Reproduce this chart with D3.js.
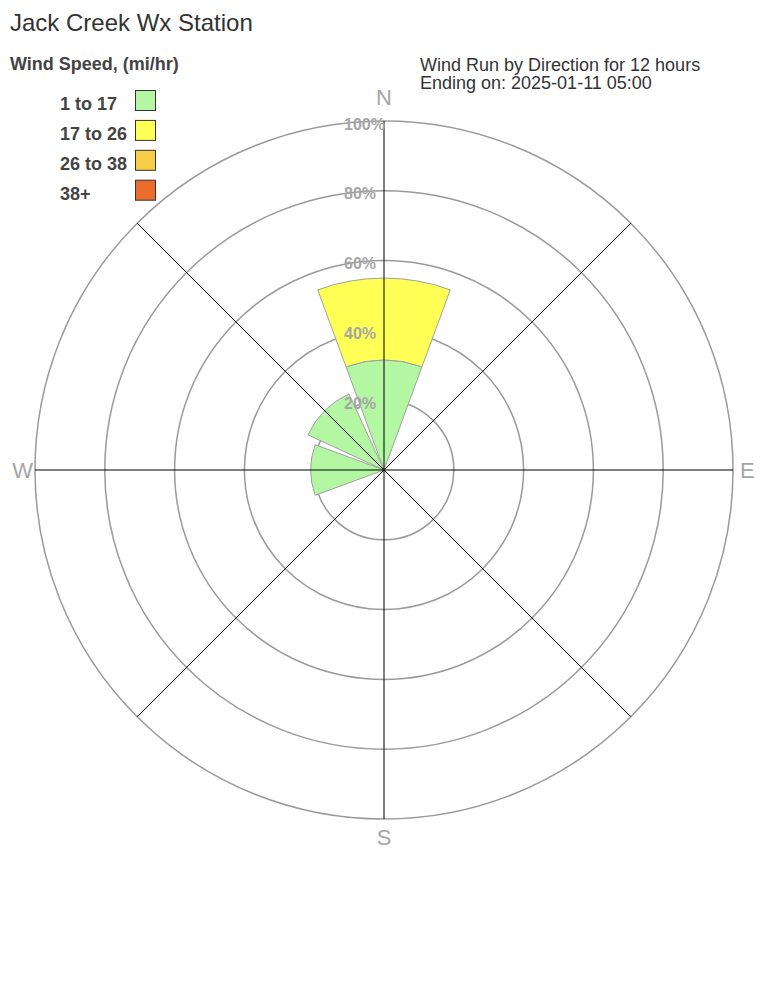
<!DOCTYPE html>
<html>
<head>
<meta charset="utf-8">
<script src="https://cdn.jsdelivr.net/npm/d3@7"></script>
<style>
  html, body { margin: 0; padding: 0; background: #fff; }
  svg { display: block; font-family: "Liberation Sans", Arial, sans-serif; }
</style>
</head>
<body>
<svg id="chart" width="768" height="1008"></svg>
<script>
// ---- data ----
const directions = ["N", "NE", "E", "SE", "S", "SW", "W", "NW"];
const speedBins = ["1 to 17", "17 to 26", "26 to 38", "38+"];
const binColors = ["#b3f7a3", "#ffff55", "#f7cd47", "#ec6c2c"];
const pct_1_17  = [31.5, 0, 0, 0, 0, 0, 21, 24];
const pct_17_26 = [23.5, 0, 0, 0, 0, 0, 0, 0];
const pct_26_38 = [0, 0, 0, 0, 0, 0, 0, 0];
const pct_38p   = [0, 0, 0, 0, 0, 0, 0, 0];
const ringTicks = [20, 40, 60, 80, 100];
const cardinalLabels = ["N", "E", "S", "W"];
const titleText = "Jack Creek Wx Station";
const legendTitle = "Wind Speed, (mi/hr)";
const subtitleLines = ["Wind Run by Direction for 12 hours", "Ending on: 2025-01-11 05:00"];

// ---- setup ----
const svg = d3.select("#chart");
const cx = 384, cy = 470, R = 349;
const r = d3.scaleLinear().domain([0, 100]).range([0, R]);
const angle = d3.scaleBand().domain(directions).range([-Math.PI / 8, 2 * Math.PI - Math.PI / 8]);
const padAng = 2.3 * Math.PI / 180;

const table = directions.map((d, i) => ({
  dir: d,
  "1 to 17": pct_1_17[i],
  "17 to 26": pct_17_26[i],
  "26 to 38": pct_26_38[i],
  "38+": pct_38p[i]
}));
const stacked = d3.stack().keys(speedBins)(table);
const color = d3.scaleOrdinal().domain(speedBins).range(binColors);

const g = svg.append("g").attr("transform", `translate(${cx},${cy})`);

// rings
g.append("g").selectAll("circle").data(ringTicks).join("circle")
  .attr("r", d => r(d))
  .attr("fill", "none")
  .attr("stroke", "#9a9a9a")
  .attr("stroke-width", 1.5);

// wedges
const arc = d3.arc()
  .startAngle(d => angle(d.data.dir) + padAng)
  .endAngle(d => angle(d.data.dir) + angle.bandwidth() - padAng)
  .innerRadius(d => r(d[0]))
  .outerRadius(d => r(d[1]));

stacked.forEach(series => {
  g.append("g").selectAll("path")
    .data(series.filter(d => d[1] - d[0] > 0))
    .join("path")
    .attr("d", arc)
    .attr("fill", color(series.key))
    .attr("stroke", "#a0a0a0")
    .attr("stroke-width", 1);
});

// spokes
const spokeAngles = directions.map(d => angle(d) + angle.bandwidth() / 2);
g.append("g").selectAll("line").data(spokeAngles).join("line")
  .attr("x1", 0).attr("y1", 0)
  .attr("x2", a => R * Math.sin(a))
  .attr("y2", a => -R * Math.cos(a))
  .attr("stroke", "#000")
  .attr("stroke-width", 1);

// ring labels
g.append("g").selectAll("text").data(ringTicks).join("text")
  .attr("x", -40)
  .attr("y", d => -r(d) + 8.5)
  .attr("fill", "#a6a6a6")
  .attr("font-size", 16)
  .attr("font-weight", "bold")
  .text(d => d + "%");

// cardinal labels
const cardPos = {
  N: { x: 0, y: -R - 16, anchor: "middle" },
  E: { x: R + 7, y: 8, anchor: "start" },
  S: { x: 0, y: R + 26, anchor: "middle" },
  W: { x: -R - 2, y: 7.5, anchor: "end" }
};
g.append("g").selectAll("text").data(cardinalLabels).join("text")
  .attr("x", d => cardPos[d].x)
  .attr("y", d => cardPos[d].y)
  .attr("text-anchor", d => cardPos[d].anchor)
  .attr("fill", "#a6a6a6")
  .attr("font-size", 22)
  .text(d => d);

// title
svg.append("text").attr("x", 10).attr("y", 31)
  .attr("font-size", 24).attr("fill", "#333").text(titleText);

// subtitle
svg.append("g").selectAll("text").data(subtitleLines).join("text")
  .attr("x", 420).attr("y", (d, i) => 70.5 + i * 18)
  .attr("font-size", 18).attr("fill", "#333").text(d => d);

// legend
svg.append("text").attr("x", 10).attr("y", 70)
  .attr("font-size", 18).attr("font-weight", "bold").attr("fill", "#444").text(legendTitle);

const leg = svg.append("g").selectAll("g").data(speedBins).join("g")
  .attr("transform", (d, i) => `translate(0,${i * 29.9})`);
leg.append("text").attr("x", 60).attr("y", 110)
  .attr("font-size", 18).attr("font-weight", "bold").attr("fill", "#444").text(d => d);
leg.append("rect").attr("x", 135.5).attr("y", 90.5).attr("width", 20).attr("height", 20)
  .attr("fill", d => color(d)).attr("stroke", "#333").attr("stroke-width", 1);
</script>
</body>
</html>
